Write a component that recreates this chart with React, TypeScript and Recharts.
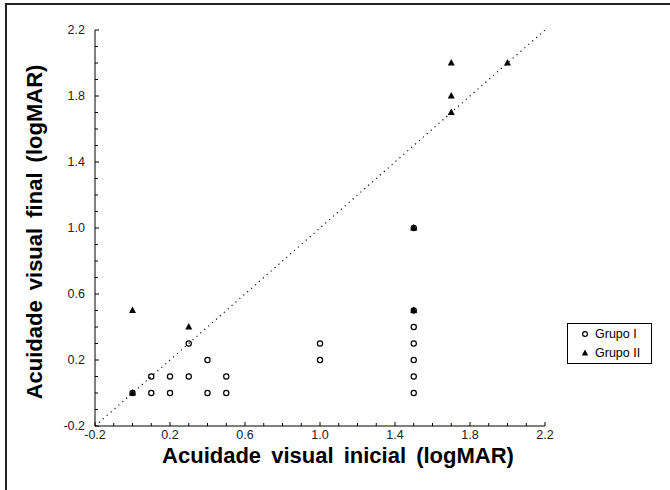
import {
  ScatterChart,
  Scatter,
  XAxis,
  YAxis,
  ReferenceLine,
  Legend,
  Label,
} from 'recharts'

// Grupo I (open circles) and Grupo II (filled triangles): [inicial, final] in logMAR
const grupoI = [
  { x: 0.0, y: 0.0 },
  { x: 0.1, y: 0.0 },
  { x: 0.2, y: 0.0 },
  { x: 0.4, y: 0.0 },
  { x: 0.5, y: 0.0 },
  { x: 0.1, y: 0.1 },
  { x: 0.2, y: 0.1 },
  { x: 0.3, y: 0.1 },
  { x: 0.5, y: 0.1 },
  { x: 0.4, y: 0.2 },
  { x: 0.3, y: 0.3 },
  { x: 1.0, y: 0.2 },
  { x: 1.0, y: 0.3 },
  { x: 1.5, y: 0.0 },
  { x: 1.5, y: 0.1 },
  { x: 1.5, y: 0.2 },
  { x: 1.5, y: 0.3 },
  { x: 1.5, y: 0.4 },
  { x: 1.5, y: 0.5 },
  { x: 1.5, y: 1.0 },
]

const grupoII = [
  { x: 0.0, y: 0.0 },
  { x: 0.0, y: 0.5 },
  { x: 0.3, y: 0.4 },
  { x: 1.5, y: 0.5 },
  { x: 1.5, y: 1.0 },
  { x: 1.7, y: 1.7 },
  { x: 1.7, y: 1.8 },
  { x: 1.7, y: 2.0 },
  { x: 2.0, y: 2.0 },
]

const AXIS_DOMAIN = [-0.2, 2.2]
const allTicks = [
  -0.2, -0.1, 0.0, 0.1, 0.2, 0.3, 0.4, 0.5, 0.6, 0.7, 0.8, 0.9, 1.0, 1.1, 1.2, 1.3, 1.4, 1.5, 1.6, 1.7, 1.8, 1.9,
  2.0, 2.1, 2.2,
]
const labelTicks = [-0.2, 0.2, 0.6, 1.0, 1.4, 1.8, 2.2]
const identity = [
  { x: -0.2, y: -0.2 },
  { x: 2.2, y: 2.2 },
]

const FONT = '"Liberation Sans", Arial, Helvetica, sans-serif'
const isMajor = (v: number) => labelTicks.some((t) => Math.abs(t - v) < 1e-6)

function EdgeTick(props: any) {
  const { x, y, payload, side } = props
  const v = payload.value
  const major = isMajor(v)
  const len = major ? 4 : 3
  let line
  if (side === 'bottom') line = <line x1={x} x2={x} y1={y} y2={y - len} />
  else if (side === 'top') line = <line x1={x} x2={x} y1={y} y2={y + len} />
  else if (side === 'left') line = <line x1={x} x2={x + len} y1={y} y2={y} />
  else line = <line x1={x} x2={x - len} y1={y} y2={y} />
  return (
    <g stroke="#000" strokeWidth={1}>
      {line}
      {major && side === 'bottom' && (
        <text x={x} y={y + 13} textAnchor="middle" stroke="none" fill="#222" fontSize={12.5} fontFamily={FONT}>
          {v.toFixed(1)}
        </text>
      )}
      {major && side === 'left' && (
        <text x={x - 10} y={y + 4} textAnchor="end" stroke="none" fill="#222" fontSize={12.5} fontFamily={FONT}>
          {v.toFixed(1)}
        </text>
      )}
    </g>
  )
}

const circle = (p: any) => <circle cx={p.cx} cy={p.cy} r={2.6} fill="none" stroke="#000" strokeWidth={1.2} />
const triangle = (p: any) => (
  <path d={`M${p.cx},${p.cy - 4} L${p.cx + 3.5},${p.cy + 2.5} L${p.cx - 3.5},${p.cy + 2.5} Z`} fill="#000" />
)

function LegendBox() {
  const rows = [
    { name: 'Grupo I', icon: <circle cx={6} cy={6} r={2.4} fill="none" stroke="#000" strokeWidth={1.2} /> },
    { name: 'Grupo II', icon: <path d="M6,2.5 L9.2,8.5 L2.8,8.5 Z" fill="#000" /> },
  ]
  return (
    <div
      style={{
        width: 83,
        height: 39,
        border: '1px solid #000',
        background: '#fff',
        fontFamily: FONT,
        fontSize: 12.5,
        color: '#000',
        boxSizing: 'content-box',
      }}
    >
      {rows.map((r) => (
        <div key={r.name} style={{ display: 'flex', alignItems: 'center', height: 19, paddingLeft: 11 }}>
          <svg width={12} height={12} style={{ marginRight: 4, flex: 'none' }}>
            {r.icon}
          </svg>
          <span>{r.name}</span>
        </div>
      ))}
    </div>
  )
}

export default function App() {
  return (
    <div style={{ position: 'absolute', left: 0, top: 0, width: 670, height: 490, overflow: 'hidden', background: '#fff' }}>
      <div
        style={{
          position: 'absolute',
          left: 5,
          top: 3,
          width: 720,
          height: 540,
          borderLeft: '2px solid #222',
          borderTop: '2px solid #222',
        }}
      />
      <div style={{ position: 'absolute', left: 0, top: 0 }}>
        <ScatterChart width={670} height={490} margin={{ top: 30, right: 125, bottom: 0, left: 0 }}>
          <XAxis
            xAxisId="b"
            type="number"
            dataKey="x"
            domain={AXIS_DOMAIN}
            ticks={allTicks}
            interval={0}
            allowDataOverflow
            height={64}
            tickSize={0}
            tickMargin={0}
            tickLine={false}
            axisLine={{ stroke: '#000' }}
            tick={(p: any) => <EdgeTick {...p} side="bottom" />}
          >
            <Label
              content={() => (
                <text x={338} y={463} textAnchor="middle" fontSize={22} fontWeight="bold" fontFamily={FONT} fill="#000" wordSpacing={4}>
                  Acuidade visual inicial (logMAR)
                </text>
              )}
            />
          </XAxis>
          <XAxis
            xAxisId="t"
            orientation="top"
            type="number"
            dataKey="x"
            domain={AXIS_DOMAIN}
            ticks={allTicks}
            interval={0}
            allowDataOverflow
            height={0}
            tickSize={0}
            tickMargin={0}
            tickLine={false}
            axisLine={{ stroke: '#000' }}
            tick={(p: any) => <EdgeTick {...p} side="top" />}
          />
          <YAxis
            yAxisId="l"
            type="number"
            dataKey="y"
            domain={AXIS_DOMAIN}
            ticks={allTicks}
            interval={0}
            allowDataOverflow
            width={95}
            tickSize={0}
            tickMargin={0}
            tickLine={false}
            axisLine={{ stroke: '#000' }}
            tick={(p: any) => <EdgeTick {...p} side="left" />}
          >
            <Label
              content={() => (
                <text
                  x={0}
                  y={0}
                  transform="translate(42,232) rotate(-90)"
                  textAnchor="middle"
                  fontSize={22}
                  fontWeight="bold"
                  fontFamily={FONT}
                  fill="#000"
                  wordSpacing={4}
                >
                  Acuidade visual final (logMAR)
                </text>
              )}
            />
          </YAxis>
          <YAxis
            yAxisId="r"
            orientation="right"
            type="number"
            dataKey="y"
            domain={AXIS_DOMAIN}
            ticks={allTicks}
            interval={0}
            allowDataOverflow
            width={0}
            tickSize={0}
            tickMargin={0}
            tickLine={false}
            axisLine={{ stroke: '#000' }}
            tick={(p: any) => <EdgeTick {...p} side="right" />}
          />
          <ReferenceLine
            xAxisId="b"
            yAxisId="l"
            segment={identity}
            stroke="#000"
            strokeWidth={1.1}
            strokeDasharray="1.2 4"
            ifOverflow="visible"
          />
          <Scatter
            name="Grupo I"
            data={grupoI}
            xAxisId="b"
            yAxisId="l"
            shape={circle}
            isAnimationActive={false}
          />
          <Scatter
            name="Grupo II"
            data={grupoII}
            xAxisId="b"
            yAxisId="l"
            shape={triangle}
            isAnimationActive={false}
          />
          <Legend
            layout="vertical"
            align="center"
            verticalAlign="middle"
            wrapperStyle={{ left: 567, top: 323, width: 'auto' }}
            content={() => <LegendBox />}
          />
        </ScatterChart>
      </div>
    </div>
  )
}
